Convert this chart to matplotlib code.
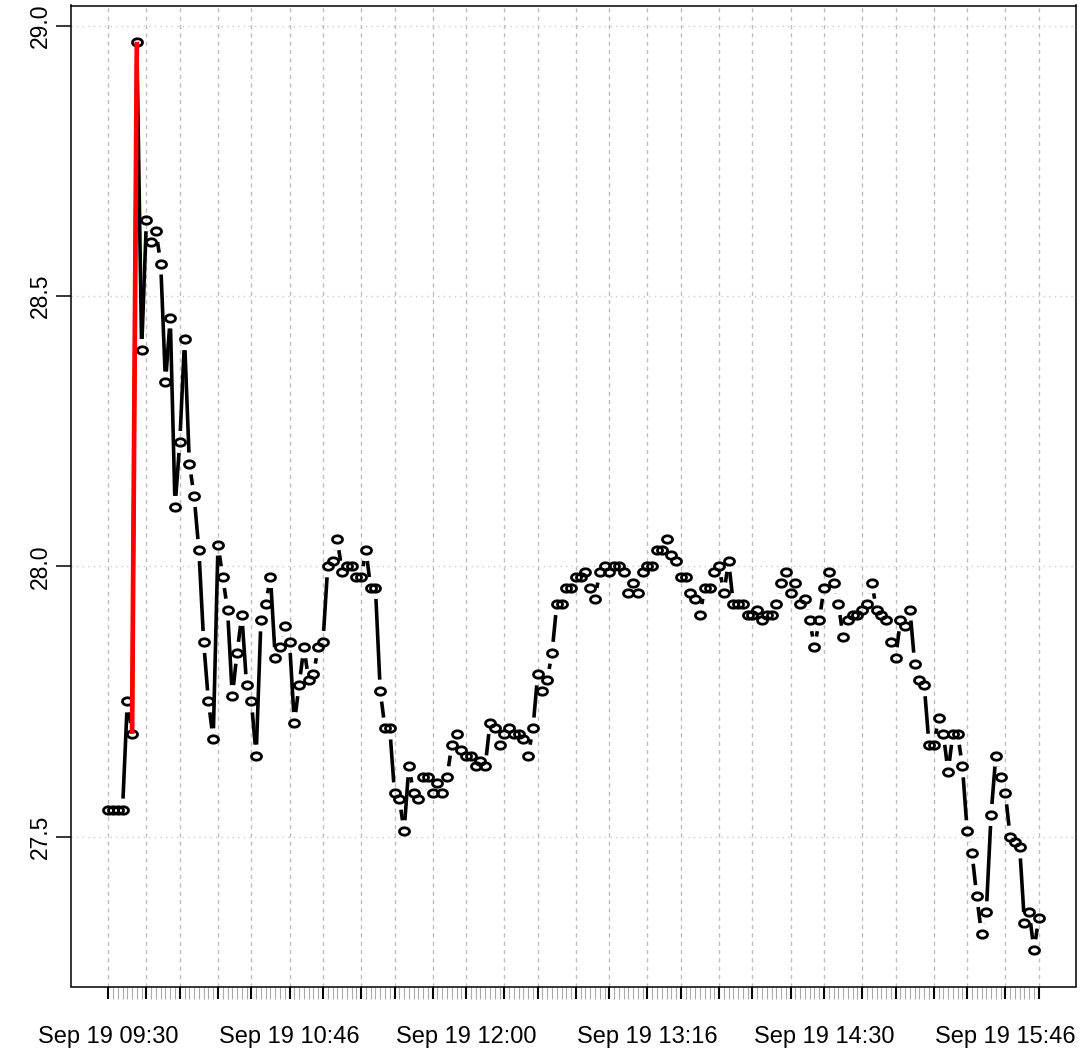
import numpy as np
import pandas as pd
import matplotlib
matplotlib.use("Agg")
import matplotlib.pyplot as plt
from matplotlib.path import Path
from matplotlib.collections import LineCollection

# Two-minute closing prices for the session
price = [
    27.55, 27.55, 27.55, 27.55, 27.75, 27.69, 28.97, 28.40, 28.64, 28.60,
    28.62, 28.56, 28.34, 28.46, 28.11, 28.23, 28.42, 28.19, 28.13, 28.03,
    27.86, 27.75, 27.68, 28.04, 27.98, 27.92, 27.76, 27.84, 27.91, 27.78,
    27.75, 27.65, 27.90, 27.93, 27.98, 27.83, 27.85, 27.89, 27.86, 27.71,
    27.78, 27.85, 27.79, 27.80, 27.85, 27.86, 28.00, 28.01, 28.05, 27.99,
    28.00, 28.00, 27.98, 27.98, 28.03, 27.96, 27.96, 27.77, 27.70, 27.70,
    27.58, 27.57, 27.51, 27.63, 27.58, 27.57, 27.61, 27.61, 27.58, 27.60,
    27.58, 27.61, 27.67, 27.69, 27.66, 27.65, 27.65, 27.63, 27.64, 27.63,
    27.71, 27.70, 27.67, 27.69, 27.70, 27.69, 27.69, 27.68, 27.65, 27.70,
    27.80, 27.77, 27.79, 27.84, 27.93, 27.93, 27.96, 27.96, 27.98, 27.98,
    27.99, 27.96, 27.94, 27.99, 28.00, 27.99, 28.00, 28.00, 27.99, 27.95,
    27.97, 27.95, 27.99, 28.00, 28.00, 28.03, 28.03, 28.05, 28.02, 28.01,
    27.98, 27.98, 27.95, 27.94, 27.91, 27.96, 27.96, 27.99, 28.00, 27.95,
    28.01, 27.93, 27.93, 27.93, 27.91, 27.91, 27.92, 27.90, 27.91, 27.91,
    27.93, 27.97, 27.99, 27.95, 27.97, 27.93, 27.94, 27.90, 27.85, 27.90,
    27.96, 27.99, 27.97, 27.93, 27.87, 27.90, 27.91, 27.91, 27.92, 27.93,
    27.97, 27.92, 27.91, 27.90, 27.86, 27.83, 27.90, 27.89, 27.92, 27.82,
    27.79, 27.78, 27.67, 27.67, 27.72, 27.69, 27.62, 27.69, 27.69, 27.63,
    27.51, 27.47, 27.39, 27.32, 27.36, 27.54, 27.65, 27.61, 27.58, 27.50,
    27.49, 27.48, 27.34, 27.36, 27.29, 27.35,
]
session_start = "2013-09-19 09:30"
bar_minutes = 2
highlight = (5, 6)          # bars joined by the red segment
y_ticks = [27.5, 28.0, 28.5, 29.0]

plt.rcParams["font.family"] = ["Liberation Sans", "DejaVu Sans"]

times = pd.date_range(session_start, periods=len(price), freq=f"{bar_minutes}min")
xi = np.arange(len(price))
yv = np.asarray(price)

# major ticks: first bar of every quarter hour; every fifth one is labelled
quarter = times.floor("15min")
major = np.flatnonzero(np.r_[True, quarter[1:] != quarter[:-1]])
labelled = set(major[::5].tolist())
major_labels = [times[m].strftime("%b %d %H:%M") if m in labelled else "" for m in major]

W, H, DPI = 1080, 1056, 100
fig = plt.figure(figsize=(W / DPI, H / DPI), dpi=DPI)
ax = fig.add_axes([71 / W, 1 - 986.5 / H, (1076 - 71) / W, (986.5 - 5.5) / H])

xpad = 0.04 * (len(price) - 1)
ypad = 0.04 * (yv.max() - yv.min())
ax.set_xlim(-xpad, len(price) - 1 + xpad)
ax.set_ylim(yv.min() - ypad, yv.max() + ypad)

# grid
for m in major:
    ax.axvline(m, color="#BEBEBE", lw=1.0, ls=(0, (3, 3)), zorder=0)
for t in y_ticks:
    ax.axhline(t, color="#CCCCCC", lw=1.0, ls=(0, (1, 3)), zorder=0)

# connecting lines with gaps around each point
gap = 11.0
pix = ax.transData.transform(np.c_[xi, yv])
inv = ax.transData.inverted()
segs = []
for p0, p1 in zip(pix[:-1], pix[1:]):
    d = np.hypot(*(p1 - p0))
    if d > 2 * gap:
        u = (p1 - p0) / d
        a, b = inv.transform(np.vstack([p0 + u * gap, p1 - u * gap]))
        segs.append([a, b])
ax.add_collection(LineCollection(segs, colors="black", linewidths=2.6,
                                 capstyle="butt", zorder=2))

# open elliptical markers
th = np.linspace(0, 2 * np.pi, 65)
ring = Path(np.c_[np.cos(th), 0.74 * np.sin(th)], closed=True)
ax.plot(xi, yv, ls="none", marker=ring, ms=7.2, mfc="none", mec="black",
        mew=2.0, zorder=3)

# highlighted jump
h0, h1 = highlight
ax.plot(xi[[h0, h1]], yv[[h0, h1]], color="#FF0000", lw=3.4,
        solid_capstyle="butt", zorder=4)

# axes
for s in ax.spines.values():
    s.set_linewidth(1.1)
ax.set_yticks(y_ticks)
ax.set_yticklabels([f"{t:.1f}" for t in y_ticks], rotation=90, va="center",
                   fontsize=16.5)
ax.tick_params(axis="y", length=10.8, width=1.1, pad=3)

ax.set_xticks(major)
ax.set_xticklabels(major_labels, fontsize=17)
ax.set_xticks(xi, minor=True)
ax.tick_params(axis="x", which="major", length=8.6, width=1.5, pad=20)
ax.tick_params(axis="x", which="minor", length=8.6, width=0.8, color="#AAAAAA")

fig.savefig("out.png", dpi=DPI)
